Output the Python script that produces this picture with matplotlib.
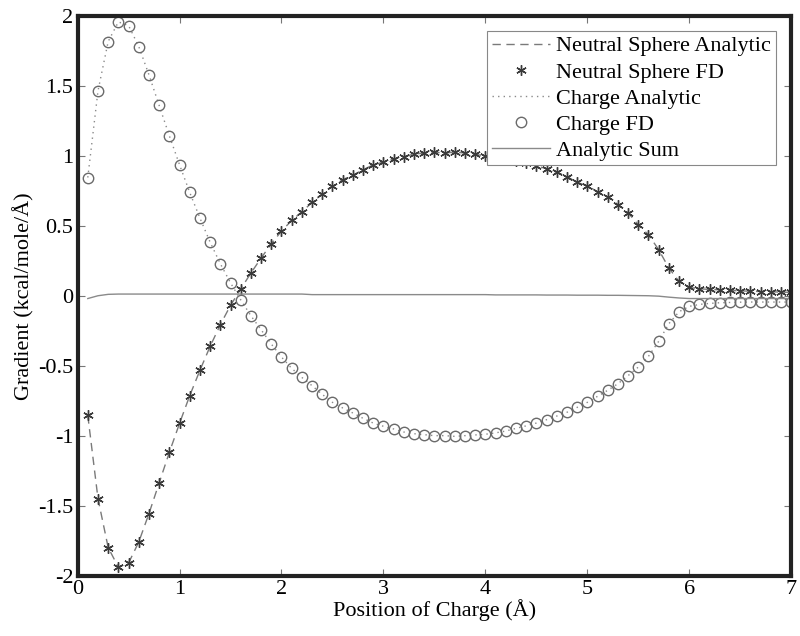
import numpy as np
import matplotlib
matplotlib.use("Agg")
import matplotlib.pyplot as plt

plt.rcParams['font.family'] = ['Liberation Serif', 'DejaVu Serif']

x = [round(0.1 * i, 1) for i in range(1, 71)]

charge_fd = [0.845, 1.464, 1.817, 1.957, 1.931, 1.781, 1.579, 1.36, 1.143, 0.936,
             0.738, 0.555, 0.383, 0.229, 0.092, -0.029, -0.143, -0.243, -0.345, -0.438,
             -0.519, -0.584, -0.643, -0.705, -0.762, -0.802, -0.838, -0.876, -0.91, -0.933,
             -0.952, -0.974, -0.986, -0.993, -1.0, -1.0, -1.005, -1.0, -0.995, -0.99,
             -0.98, -0.967, -0.948, -0.93, -0.91, -0.886, -0.86, -0.833, -0.798, -0.762,
             -0.719, -0.676, -0.629, -0.571, -0.51, -0.433, -0.326, -0.2, -0.114, -0.076,
             -0.062, -0.055, -0.05, -0.048, -0.046, -0.045, -0.045, -0.045, -0.045, -0.045]

neutral_fd = [-0.855, -1.45, -1.80, -1.94, -1.91, -1.76, -1.557, -1.338, -1.119, -0.912,
              -0.714, -0.533, -0.362, -0.207, -0.069, 0.048, 0.162, 0.269, 0.371, 0.462,
              0.538, 0.600, 0.667, 0.726, 0.781, 0.829, 0.862, 0.9, 0.936, 0.955,
              0.978, 0.995, 1.012, 1.02, 1.026, 1.02, 1.026, 1.02, 1.01, 1.0,
              0.99, 0.975, 0.96, 0.948, 0.93, 0.907, 0.883, 0.852, 0.81, 0.786,
              0.743, 0.707, 0.652, 0.593, 0.507, 0.436, 0.329, 0.198, 0.102, 0.059,
              0.05, 0.045, 0.042, 0.038, 0.035, 0.032, 0.03, 0.028, 0.026, 0.024]

charge_analytic = charge_fd
neutral_analytic = neutral_fd

analytic_sum = [-0.02, 0.0, 0.01, 0.012, 0.012, 0.012, 0.012, 0.012, 0.012, 0.012,
                0.012, 0.012, 0.012, 0.012, 0.012, 0.012, 0.012, 0.012, 0.012, 0.012,
                0.012, 0.012, 0.008, 0.008, 0.008, 0.008, 0.008, 0.008, 0.008, 0.008,
                0.008, 0.008, 0.008, 0.008, 0.008, 0.008, 0.008, 0.008, 0.008, 0.008,
                0.006, 0.006, 0.006, 0.006, 0.006, 0.005, 0.005, 0.005, 0.004, 0.004,
                0.004, 0.003, 0.003, 0.002, 0.001, 0.0, -0.003, -0.01, -0.016, -0.02,
                -0.02, -0.02, -0.02, -0.02, -0.02, -0.02, -0.02, -0.02, -0.02, -0.02]

fig = plt.figure(figsize=(8, 6.36), dpi=100)
ax = fig.add_axes([0.097, 0.095, 0.892, 0.880])

ax.plot(x, neutral_analytic, linestyle=(0, (6, 4)), color='#7a7a7a', lw=1.0,
        label='Neutral Sphere Analytic')
ax.plot(x, neutral_fd, linestyle='none', marker=(6, 2, 0), markersize=7.5,
        color='#3a3a3a', markeredgewidth=1.0, label='Neutral Sphere FD')
ax.plot(x, charge_analytic, linestyle=(0, (1, 3)), color='#8a8a8a', lw=1.0,
        label='Charge Analytic')
ax.plot(x, charge_fd, linestyle='none', marker='o', markersize=7.5,
        markerfacecolor='none', markeredgecolor='#6a6a6a', markeredgewidth=1.0,
        label='Charge FD')
ax.plot(x, analytic_sum, linestyle='-', color='#8a8a8a', lw=1.0,
        label='Analytic Sum')

ax.set_xlim(0, 7)
ax.set_ylim(-2, 2)
ax.set_xticks(np.arange(0, 8, 1))
ax.set_yticks(np.arange(-2, 2.01, 0.5))
ax.set_yticklabels(['-2', '-1.5', '-1', '-0.5', '0', '0.5', '1', '1.5', '2'])

ax.tick_params(direction='in', top=True, right=True, length=5, width=0.8,
               labelsize=16, color='#777777', pad=3)
for s in ax.spines.values():
    s.set_linewidth(3)
    s.set_color('#222222')

ax.set_xlabel('Position of Charge (Å)', fontsize=16, labelpad=0)
ax.set_ylabel('Gradient (kcal/mole/Å)', fontsize=16, labelpad=3)

leg = ax.legend(loc='upper right', fontsize=16, frameon=True, fancybox=False,
                framealpha=1.0, handlelength=2.6, borderaxespad=0.7,
                labelspacing=0.25, handletextpad=0.3, borderpad=0.2)
leg.get_frame().set_edgecolor('#888888')
leg.get_frame().set_linewidth(0.8)

fig.savefig('out.png', dpi=100)
